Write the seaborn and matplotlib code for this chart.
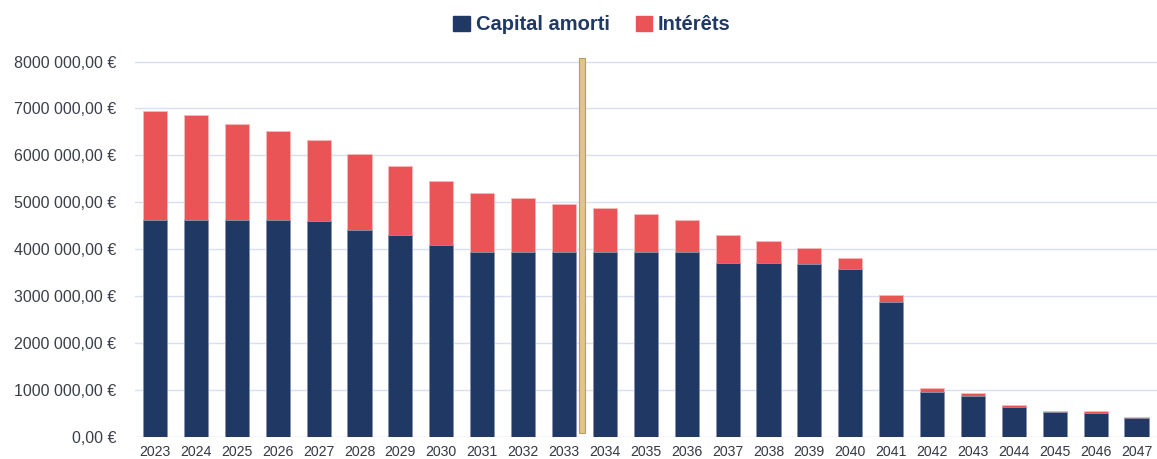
import matplotlib.pyplot as plt
import matplotlib.patches as mpatches
import pandas as pd
import seaborn as sns

# Data (euros)
years = [str(y) for y in range(2023, 2048)]
capital = [4.62e6, 4.62e6, 4.62e6, 4.62e6, 4.59e6, 4.40e6, 4.29e6, 4.09e6,
           3.93e6, 3.93e6, 3.94e6, 3.94e6, 3.94e6, 3.94e6, 3.71e6, 3.71e6,
           3.68e6, 3.58e6, 2.87e6, 0.95e6, 0.87e6, 0.62e6, 0.52e6, 0.51e6,
           0.39e6]
interets = [2.32e6, 2.24e6, 2.04e6, 1.89e6, 1.74e6, 1.62e6, 1.48e6, 1.37e6,
            1.26e6, 1.16e6, 1.03e6, 0.93e6, 0.81e6, 0.69e6, 0.58e6, 0.46e6,
            0.35e6, 0.23e6, 0.14e6, 0.08e6, 0.06e6, 0.05e6, 0.03e6, 0.035e6,
            0.03e6]
yticks = [0, 1e6, 2e6, 3e6, 4e6, 5e6, 6e6, 7e6, 8e6]
ytick_labels = ["0,00 €", "1000 000,00 €", "2000 000,00 €", "3000 000,00 €",
                "4000 000,00 €", "5000 000,00 €", "6000 000,00 €",
                "7000 000,00 €", "8000 000,00 €"]
current_year = "2033"

df = pd.DataFrame({"year": years, "capital": capital, "interets": interets})
df["total"] = df["capital"] + df["interets"]

navy = "#1F3864"
red = "#EB5456"

sns.set_style("white")
plt.rcParams['font.family'] = ['Liberation Sans', 'DejaVu Sans']

fig = plt.figure(figsize=(11.57, 4.59), dpi=100)
ax = fig.add_axes([0.1163, 0.049, 0.8837, 0.827])

# stacked bars: total (red) then capital (navy) on top
sns.barplot(df, x="year", y="total", color=red, width=0.59, saturation=1,
            edgecolor="#F6B9BA", linewidth=0.6, ax=ax, zorder=3)
sns.barplot(df, x="year", y="capital", color=navy, width=0.59, saturation=1,
            edgecolor="#8A97B3", linewidth=0.6, ax=ax, zorder=4)

# gold marker for the current year
xi = years.index(current_year)
ax.add_patch(mpatches.Rectangle((xi + 0.355, 0.08e6), 0.16, 8.0e6,
                                facecolor="#DFC588", edgecolor="#B89D60",
                                linewidth=0.8, zorder=6))

ax.set_xlim(-0.5, len(years) - 0.5)
ax.set_ylim(0, 8.1e6)
ax.set_yticks(yticks)
ax.set_yticklabels(ytick_labels)
ax.grid(axis="y", color="#D9DFF2", linewidth=1.0, zorder=0)
ax.set_axisbelow(True)
for s in ax.spines.values():
    s.set_visible(False)
ax.tick_params(axis="y", length=0, pad=13, labelsize=11.5, labelcolor="#3A3F4A")
ax.tick_params(axis="x", length=0, pad=6, labelsize=10.2, labelcolor="#333845")
ax.set_xlabel("")
ax.set_ylabel("")

handles = [mpatches.Patch(color=navy, label="Capital amorti"),
           mpatches.Patch(color=red, label="Intérêts")]
fig.legend(handles=handles, loc="center", bbox_to_anchor=(592 / 1157, 1 - 25 / 459),
           ncol=2, frameon=False, handlelength=0.8, handleheight=0.8,
           handletextpad=0.3, columnspacing=1.3,
           prop={"weight": "bold", "size": 14.5}, labelcolor=navy)

fig.savefig("out.png", dpi=100)
